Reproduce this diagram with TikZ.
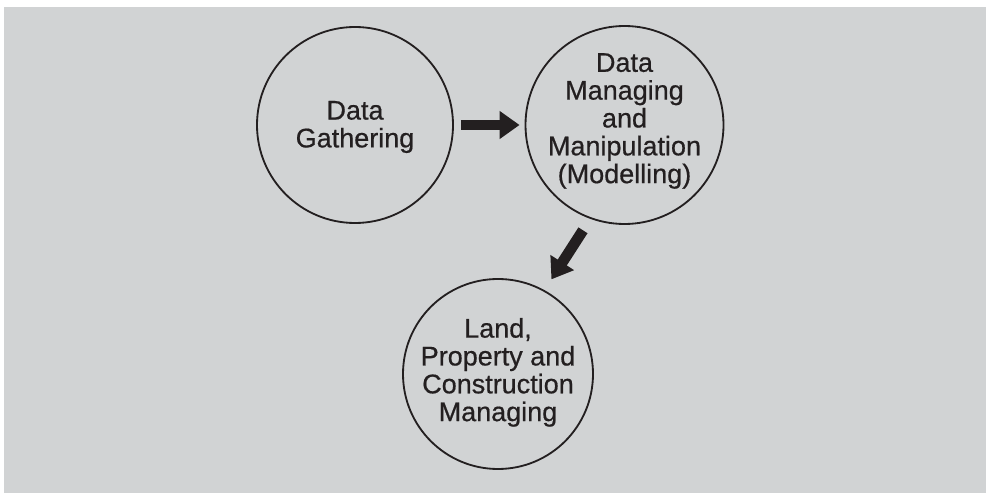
\documentclass[tikz,border=0pt]{standalone}
\usepackage{fontspec}
\setmainfont{Liberation Sans}[RawFeature={embolden=0.6}]
\usepackage{xcolor}
\usepackage{tikz}
\usetikzlibrary{positioning,calc,arrows.meta}
\definecolor{bggray}{RGB}{209,211,212}
\definecolor{ink}{RGB}{35,31,32}

\begin{document}
\begin{tikzpicture}[
    blob/.style={circle, draw=ink, line width=1.3pt, inner sep=0pt},
    txt/.style={align=center, text=ink, font=\fontsize{19.2}{19.8}\selectfont, inner sep=0pt},
    fat/.style={draw=ink, line width=0.27cm, -{Triangle[length=0.5cm,width=0.67cm]}}
]
    \useasboundingbox (0,0) rectangle (24.65,12.325);
    \fill[white] (0,0) rectangle (24.65,12.325);
    \fill[bggray] (0.1,0) rectangle (24.65,12.15);
    % circles
    \node[blob, minimum size=4.9cm] (gather) at (8.875,9.2) {};
    \node[blob, minimum size=4.95cm] (manage) at (15.6125,9.2) {};
    \node[blob, minimum size=4.75cm] (land) at (12.45,2.975) {};
    % texts
    \node[txt] at ($(gather)+(0,-0.05)$) {Data\\Gathering};
    \node[txt] at ($(manage)+(0,0.1)$) {Data\\Managing\\and\\Manipulation\\(Modelling)};
    \node[txt] at ($(land)+(0,0.04)$) {Land,\\Property and\\Construction\\Managing};
    % arrows
    \draw[fat, shorten <=0.175cm, shorten >=0.125cm] (gather) -- (manage);
    \draw[fat, shorten <=0.34cm, shorten >=0.32cm] (manage.250) -- (land.61);
\end{tikzpicture}
\end{document}
